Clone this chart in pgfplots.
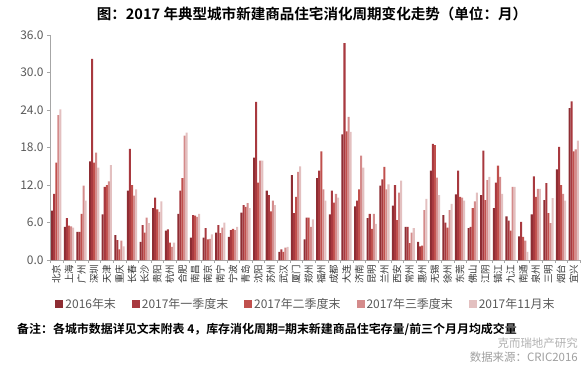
\documentclass[border=0pt]{standalone}
\usepackage{fontspec}
\setmainfont{Noto Sans CJK SC}
\newfontfamily\cjkb{Noto Sans CJK SC Bold}
\usepackage{pgfplots}
\usepackage{pgfplotstable}
\pgfplotsset{compat=1.18}
\definecolor{cA}{HTML}{8E2D33}
\definecolor{cB}{HTML}{A8393F}
\definecolor{cC}{HTML}{C0504D}
\definecolor{cD}{HTML}{D48B8B}
\definecolor{cE}{HTML}{E3C0C0}
\definecolor{txt}{HTML}{595959}
\definecolor{axc}{HTML}{A6A6A6}
\pgfplotstableread{
x a b c d e
0 7.9 10.6 15.6 23.2 24.1
1 5.3 6.7 5.5 5.4 5.2
2 4.5 4.5 7.4 11.9 9.5
3 15.8 32.2 15.6 17.2 14.8
4 7.3 11.7 12.0 12.6 15.2
5 4.0 3.2 1.7 3.1 2.2
6 11.1 17.8 12.0 10.3 11.3
7 2.9 5.6 4.4 6.8 5.9
8 8.3 10.0 8.1 7.7 9.4
9 4.7 4.9 2.8 2.1 2.8
10 7.4 11.1 13.1 19.9 20.4
11 3.6 7.2 7.1 6.9 7.4
12 3.6 5.1 3.3 3.4 4.1
13 4.4 5.6 4.3 5.2 6.0
14 3.7 4.8 5.0 4.8 5.3
15 7.6 8.8 8.5 9.1 8.3
16 16.4 25.3 12.4 15.9 15.9
17 11.1 10.4 7.8 9.5 8.8
18 1.3 1.7 1.3 2.0 2.1
19 13.6 7.5 10.1 14.1 15.0
20 3.3 6.8 6.8 5.3 6.5
21 13.1 14.3 17.4 11.3 9.5
22 7.3 11.1 9.2 10.6 10.0
23 20.1 34.7 20.6 22.9 20.5
24 8.6 9.5 11.3 16.7 14.8
25 6.7 7.4 5.0 7.4 5.8
26 11.9 12.9 14.9 11.3 12.1
27 8.7 12.0 6.4 10.8 12.7
28 5.3 5.3 2.7 4.4 5.1
29 2.9 2.2 2.3 8.0 9.8
30 14.3 18.6 18.4 13.2 10.4
31 7.2 6.0 5.2 8.0 9.0
32 10.5 14.3 10.1 10.0 9.5
33 5.1 5.3 8.3 9.4 10.8
34 10.4 17.5 9.6 12.8 13.3
35 8.3 12.4 15.1 13.3 10.6
36 7.0 6.3 4.7 11.7 11.7
37 3.8 6.1 3.7 3.1 1.3
38 7.3 13.4 10.1 11.4 11.4
39 9.6 12.3 7.5 5.9 9.9
40 14.5 18.1 12.0 10.6 9.5
41 24.3 25.4 17.4 17.7 19.1
}\datatable
\begin{document}
\begin{tikzpicture}
\begin{axis}[
  scale only axis,
  width=530bp, height=225bp,
  ybar=0pt, bar width=2.05bp,
  xmin=-0.5, xmax=41.5,
  ymin=0, ymax=36,
  ytick={0,6,...,36},
  xtick={0,...,41},
  xticklabels={北京,上海,广州,深圳,天津,重庆,长春,长沙,贵阳,杭州,合肥,南昌,南京,南宁,宁波,青岛,沈阳,苏州,武汉,厦门,郑州,福州,成都,大连,济南,昆明,兰州,西安,常州,惠州,无锡,徐州,东莞,佛山,江阴,镇江,九江,南通,泉州,三明,烟台,宜兴},
  minor xtick={-0.5,0.5,...,41.5},
  major x tick style={draw=none},
  minor x tick style={axc},
  minor tick length=3bp,
  major tick length=3bp,
  tick align=outside,
  tick pos=left,
  axis lines*=left,
  axis line style={axc,-},
  y tick style={axc},
  xticklabel style={rotate=90, anchor=east, font=\fontsize{9.5}{10}\selectfont, text=black!80, inner sep=1.5pt},
  yticklabel style={font=\fontsize{12}{14}\selectfont, text=txt, /pgf/number format/.cd, fixed, fixed zerofill, precision=1, assume math mode=true},
  legend style={at={(0.483,-0.197)}, anchor=center, draw=none, fill=none, legend columns=5,
    font=\fontsize{12}{13}\selectfont, text=txt,
    /tikz/every even column/.append style={column sep=14bp}},
  legend image code/.code={\fill[#1] (0bp,-4bp) rectangle (8bp,4bp);},
  legend cell align=left,
]
\addplot[fill=cA, draw=none] table[x=x,y=a]{\datatable};
\addplot[fill=cB, draw=none] table[x=x,y=b]{\datatable};
\addplot[fill=cC, draw=none] table[x=x,y=c]{\datatable};
\addplot[fill=cD, draw=none] table[x=x,y=d]{\datatable};
\addplot[fill=cE, draw=none] table[x=x,y=e]{\datatable};
\legend{2016年末,2017年一季度末,2017年二季度末,2017年三季度末,2017年11月末}
\end{axis}
\node[font=\cjkb\fontsize{14.6}{16}\selectfont] at (262bp,246bp) {图：2017 年典型城市新建商品住宅消化周期变化走势（单位：月）};
\node[anchor=west, font=\cjkb\fontsize{12}{13}\selectfont, inner sep=0pt] at (-33bp,-69bp) {备注：各城市数据详见文末附表 4，库存消化周期=期末新建商品住宅存量/前三个月月均成交量};
\node[anchor=east, font=\fontsize{11.5}{13}\selectfont, text=gray!60, inner sep=0pt] at (528bp,-83bp) {克而瑞地产研究};
\node[anchor=east, font=\fontsize{11.5}{13}\selectfont, text=gray!75, inner sep=0pt] at (528bp,-97bp) {数据来源：CRIC2016};
\pgfresetboundingbox
\path (-50bp,-105bp) rectangle (534bp,260bp);
\end{tikzpicture}
\end{document}
